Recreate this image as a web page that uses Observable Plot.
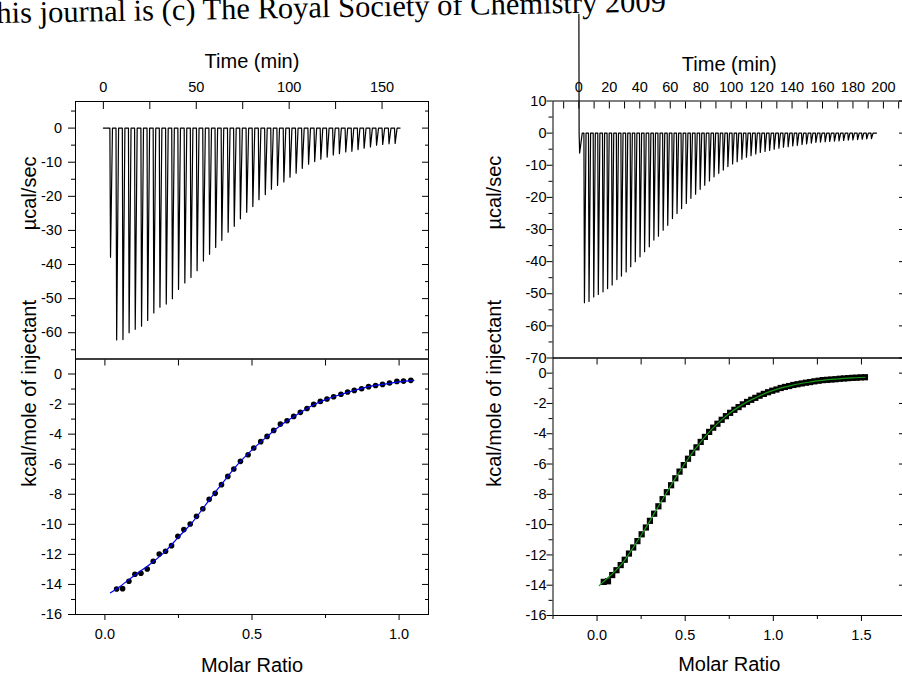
<!DOCTYPE html>
<html><head><meta charset="utf-8">
<script src="https://cdn.jsdelivr.net/npm/d3@7"></script>
<script src="https://cdn.jsdelivr.net/npm/@observablehq/plot@0.6"></script>
<style>
html,body{margin:0;padding:0;background:#fff;overflow:hidden;}
#fig{position:relative;width:902px;height:675px;overflow:hidden;background:#fff;}
#title{position:absolute;left:-21.6px;top:-2.5px;font-family:"Liberation Serif","Times New Roman",serif;font-size:30.5px;line-height:30.5px;white-space:nowrap;color:#000;transform-origin:21.6px 25.5px;transform:rotate(-1deg);}
</style></head><body>
<div id="fig"><div id="title">This journal is (c) The Royal Society of Chemistry 2009</div></div>
<script>
// ---------- Left panel, raw data (µcal/sec vs time) ----------
const ltInjTime = [3.5, 6.8, 10.2, 13.5, 16.8, 20.2, 23.5, 26.8, 30.1, 33.5, 36.8, 40.1, 43.5, 46.8, 50.1, 53.5, 56.8, 60.1, 63.4, 66.8, 70.1, 73.4, 76.8, 80.1, 83.4, 86.8, 90.1, 93.4, 96.8, 100.1, 103.4, 106.7, 110.1, 113.4, 116.7, 120.1, 123.4, 126.7, 130.1, 133.4, 136.7, 140.0, 143.4, 146.7, 150.0, 153.4, 156.7];
const ltDepth = [-37.9, -62.1, -62.0, -60.0, -59.0, -58.1, -56.4, -54.2, -52.5, -51.6, -50.0, -47.3, -45.4, -43.8, -41.8, -39.0, -37.0, -35.0, -32.9, -30.5, -28.8, -26.6, -24.7, -23.0, -21.0, -19.5, -17.9, -16.8, -15.8, -14.4, -13.2, -11.8, -10.6, -9.8, -9.1, -8.5, -7.9, -7.5, -7.0, -6.8, -6.3, -5.9, -5.5, -5.0, -4.8, -4.6, -4.5];
const ltStartT = [0], ltStartV = [0];
const ltEndT = 159.7;

// ---------- Left panel, integrated heats ----------
const lbRatio = [0.0397, 0.0601, 0.0816, 0.1020, 0.1224, 0.1439, 0.1643, 0.1846, 0.2061, 0.2265, 0.2480, 0.2684, 0.2899, 0.3114, 0.3329, 0.3544, 0.3748, 0.3963, 0.4178, 0.4382, 0.4608, 0.4868, 0.5060, 0.5298, 0.5513, 0.5739, 0.5965, 0.6192, 0.6418, 0.6644, 0.6870, 0.7097, 0.7323, 0.7549, 0.7775, 0.8024, 0.8250, 0.8477, 0.8726, 0.8963, 0.9201, 0.9438, 0.9676, 0.9925, 1.0151, 1.0400];
const lbKcal = [-14.30, -14.28, -13.79, -13.32, -13.26, -12.97, -12.46, -11.97, -11.79, -11.42, -10.80, -10.35, -9.98, -9.47, -8.96, -8.34, -7.94, -7.36, -6.81, -6.32, -5.81, -5.37, -4.92, -4.50, -4.15, -3.75, -3.33, -3.11, -2.82, -2.55, -2.29, -2.02, -1.82, -1.66, -1.51, -1.35, -1.20, -1.09, -0.98, -0.84, -0.76, -0.69, -0.60, -0.49, -0.47, -0.42];
const lbFitRatio = [0.019, 0.05, 0.10, 0.15, 0.20, 0.25, 0.30, 0.35, 0.40, 0.45, 0.50, 0.55, 0.60, 0.65, 0.70, 0.75, 0.80, 0.85, 0.90, 0.95, 1.00, 1.05];
const lbFitKcal = [-14.56, -14.15, -13.40, -12.70, -11.90, -10.85, -9.80, -8.50, -7.25, -6.05, -5.05, -4.18, -3.38, -2.74, -2.14, -1.70, -1.37, -1.08, -0.82, -0.67, -0.52, -0.42];

// ---------- Right panel, raw data ----------
const rtInjTime = [3.3, 6.3, 9.4, 12.4, 15.5, 18.5, 21.5, 24.6, 27.6, 30.7, 33.7, 36.7, 39.8, 42.8, 45.9, 48.9, 51.9, 55.0, 58.0, 61.1, 64.1, 67.1, 70.2, 73.2, 76.3, 79.3, 82.3, 85.4, 88.4, 91.5, 94.5, 97.5, 100.6, 103.6, 106.7, 109.7, 112.7, 115.8, 118.8, 121.9, 124.9, 127.9, 131.0, 134.0, 137.1, 140.1, 143.1, 146.2, 149.2, 152.3, 155.3, 158.3, 161.4, 164.4, 167.5, 170.5, 173.5, 176.6, 179.6, 182.7, 185.7, 188.7, 191.8];
const rtDepth = [-52.8, -52.4, -51.0, -50.2, -49.4, -48.4, -47.3, -45.6, -44.5, -43.2, -41.6, -40.0, -38.5, -36.9, -35.4, -33.3, -32.1, -30.2, -28.7, -26.6, -25.0, -23.5, -21.9, -20.3, -19.0, -17.5, -16.2, -14.9, -13.6, -12.5, -11.5, -10.4, -9.6, -8.9, -8.1, -7.5, -7.0, -6.5, -6.0, -5.7, -5.4, -5.0, -4.7, -4.4, -4.2, -4.0, -3.8, -3.55, -3.35, -3.1, -2.9, -2.8, -2.7, -2.6, -2.5, -2.4, -2.3, -2.2, -2.1, -2.0, -1.9, -1.8, -1.7];
const rtStartT = [0, 0.15, 0.5, 2.2], rtStartV = [37, 0, -6.2, 0];
const rtEndT = 195.4;

// ---------- Right panel, integrated heats ----------
const rbRatio = [0.038, 0.062, 0.086, 0.110, 0.134, 0.157, 0.181, 0.205, 0.229, 0.253, 0.277, 0.300, 0.324, 0.348, 0.372, 0.396, 0.420, 0.444, 0.468, 0.492, 0.516, 0.540, 0.564, 0.588, 0.612, 0.636, 0.659, 0.683, 0.707, 0.731, 0.755, 0.779, 0.803, 0.827, 0.851, 0.875, 0.898, 0.922, 0.946, 0.970, 0.994, 1.018, 1.042, 1.066, 1.090, 1.114, 1.137, 1.161, 1.185, 1.209, 1.233, 1.257, 1.281, 1.305, 1.329, 1.353, 1.377, 1.401, 1.425, 1.449, 1.472, 1.496, 1.520];
const rbKcal = [-13.78, -13.74, -13.33, -13.01, -12.67, -12.32, -11.91, -11.51, -11.09, -10.64, -10.19, -9.75, -9.28, -8.79, -8.32, -7.86, -7.40, -6.94, -6.50, -6.07, -5.65, -5.26, -4.90, -4.54, -4.21, -3.88, -3.60, -3.34, -3.08, -2.84, -2.62, -2.42, -2.24, -2.06, -1.90, -1.76, -1.63, -1.49, -1.37, -1.26, -1.16, -1.08, -0.98, -0.91, -0.85, -0.78, -0.73, -0.68, -0.63, -0.59, -0.54, -0.50, -0.46, -0.44, -0.42, -0.40, -0.37, -0.35, -0.33, -0.31, -0.30, -0.28, -0.27];
const rbFitRatio = [0.013, 0.05, 0.10, 0.15, 0.20, 0.25, 0.30, 0.35, 0.40, 0.45, 0.50, 0.55, 0.60, 0.65, 0.70, 0.75, 0.80, 0.85, 0.90, 0.95, 1.00, 1.05, 1.10, 1.15, 1.20, 1.25, 1.30, 1.35, 1.40, 1.45, 1.52];
const rbFitKcal = [-14.02, -13.62, -13.10, -12.45, -11.60, -10.70, -9.75, -8.75, -7.78, -6.83, -5.93, -5.11, -4.37, -3.71, -3.15, -2.66, -2.26, -1.91, -1.62, -1.35, -1.14, -0.96, -0.82, -0.70, -0.60, -0.51, -0.44, -0.40, -0.35, -0.31, -0.27];

// ---------- Tick values ----------
const ltTimeTicks = [0, 50, 100, 150], ltTimeMinor = [25, 75, 125];
const ltYTicks = [0, -10, -20, -30, -40, -50, -60], ltYMinor = [5, -5, -15, -25, -35, -45, -55, -65];
const lbXTicks = [0, 0.5, 1.0], lbXMinor = [0.25, 0.75];
const kcalTicks = [0, -2, -4, -6, -8, -10, -12, -14, -16], kcalMinor = [-1, -3, -5, -7, -9, -11, -13, -15];
const rtTimeTicks = [0, 20, 40, 60, 80, 100, 120, 140, 160, 180, 200], rtTimeMinor = [-10, 10, 30, 50, 70, 90, 110, 130, 150, 170, 190, 210];
const rtYTicks = [10, 0, -10, -20, -30, -40, -50, -60, -70], rtYMinor = [5, -5, -15, -25, -35, -45, -55, -65];
const rbXTicks = [0, 0.5, 1.0, 1.5], rbXMinor = [-0.25, 0.25, 0.75, 1.25, 1.75];

// ---------- helpers ----------
function buildTrace(startT, startV, times, depths, endT) {
  const pts = startT.map((t, i) => ({t, v: startV[i]}));
  times.forEach((t, i) => { pts.push({t, v: 0}, {t: t + 0.35, v: depths[i]}, {t: t + 1.4, v: 0}); });
  pts.push({t: endT, v: 0});
  return pts;
}
const zip = (a, b) => a.map((x, i) => ({x, y: b[i]}));
const FONT = "'Liberation Sans', Arial, Helvetica, sans-serif";
const STYLE = `position:absolute;left:0;top:0;background:transparent;overflow:visible;max-width:none;font-family:${FONT};font-size:14.5px;color:#000;`;
const hy = d => String(d);
const f1 = d => d.toFixed(1);
const blank = () => "";
const fig = document.getElementById("fig");

function rawPanel({width, ml, mr, mt, bottom, xDomain, yDomain, tTicks, tMinor, yTicks, yMinor, trace, leftTick, leftPad, titleDy, yTitleDx}) {
  return Plot.plot({
    width, height: 675, marginLeft: ml, marginRight: mr, marginTop: mt, marginBottom: 675 - bottom,
    x: {domain: xDomain}, y: {domain: yDomain},
    style: STYLE,
    marks: [
      Plot.frame({stroke: "black", strokeWidth: 1}),
      Plot.axisX(tTicks, {anchor: "top", tickSize: 0, tickPadding: titleDy.tick, tickFormat: hy, label: null}),
      Plot.axisX([...tTicks, ...tMinor], {anchor: "top", tickSize: 7, dy: 7, tickFormat: blank, label: null}),
      Plot.axisY(yTicks, {anchor: "left", tickSize: leftTick, tickPadding: leftPad, tickFormat: hy, label: null}),
      Plot.axisY(yMinor, {anchor: "left", tickSize: 4, tickFormat: blank, label: null}),
      Plot.axisY(yTicks, {anchor: "right", tickSize: 7, dx: -7, tickFormat: blank, label: null}),
      Plot.axisY(yMinor, {anchor: "right", tickSize: 4, dx: -4, tickFormat: blank, label: null}),
      Plot.line(trace, {x: "t", y: "v", stroke: "black", strokeWidth: 1.2}),
      Plot.text(["Time (min)"], {text: d => d, frameAnchor: "top", dy: titleDy.title, lineAnchor: "bottom", fontSize: 20}),
      Plot.text(["µcal/sec"], {text: d => d, frameAnchor: "left", dx: yTitleDx, rotate: -90, lineAnchor: "middle", fontSize: 20})
    ]
  });
}

function heatPanel({width, ml, mr, top, bottom, xDomain, xTicks, xMinor, topTicks, points, fit, symbol, r, fitColor, leftTick, leftPad, yTitleDx, titleDy}) {
  return Plot.plot({
    width, height: 675, marginLeft: ml, marginRight: mr, marginTop: top, marginBottom: 675 - bottom,
    x: {domain: xDomain}, y: {domain: [-16, 1]},
    style: STYLE,
    marks: [
      Plot.frame({stroke: "black", strokeWidth: 1}),
      Plot.axisX(topTicks, {anchor: "top", tickSize: 6, dy: 6, tickFormat: blank, label: null}),
      Plot.axisX(xTicks, {anchor: "bottom", tickSize: 6, tickPadding: 8.7, tickFormat: f1, label: null}),
      Plot.axisX(xMinor, {anchor: "bottom", tickSize: 4, tickFormat: blank, label: null}),
      Plot.axisY(kcalTicks, {anchor: "left", tickSize: leftTick, tickPadding: leftPad, tickFormat: hy, label: null}),
      Plot.axisY(kcalMinor, {anchor: "left", tickSize: 4, tickFormat: blank, label: null}),
      Plot.axisY(kcalTicks, {anchor: "right", tickSize: 7, dx: -7, tickFormat: blank, label: null}),
      Plot.axisY(kcalMinor, {anchor: "right", tickSize: 4, dx: -4, tickFormat: blank, label: null}),
      Plot.dot(points, {x: "x", y: "y", symbol, r, fill: "black", stroke: "none"}),
      Plot.line(fit, {x: "x", y: "y", stroke: fitColor, strokeWidth: 1.2, curve: "monotone-x"}),
      Plot.text(["Molar Ratio"], {text: d => d, frameAnchor: "bottom", dy: titleDy, lineAnchor: "bottom", fontSize: 20}),
      Plot.text(["kcal/mole of injectant"], {text: d => d, frameAnchor: "left", dx: yTitleDx, rotate: -90, lineAnchor: "middle", fontSize: 20})
    ]
  });
}

const lt = rawPanel({width: 902, ml: 75, mr: 474, mt: 101, bottom: 358.5, xDomain: [-15, 175], yDomain: [-67.7, 7.8],
  tTicks: ltTimeTicks, tMinor: ltTimeMinor, yTicks: ltYTicks, yMinor: ltYMinor,
  trace: buildTrace(ltStartT, ltStartV, ltInjTime, ltDepth, ltEndT), leftTick: 7, leftPad: 6.5,
  titleDy: {tick: 9.3, title: -33.5}, yTitleDx: -46});
const rt = rawPanel({width: 910, ml: 552.5, mr: 5, mt: 100.5, bottom: 357.5, xDomain: [-17, 214.5], yDomain: [-70, 10],
  tTicks: rtTimeTicks, tMinor: rtTimeMinor, yTicks: rtYTicks, yMinor: rtYMinor,
  trace: buildTrace(rtStartT, rtStartV, rtInjTime, rtDepth, rtEndT), leftTick: 6, leftPad: 0.5,
  titleDy: {tick: 8.8, title: -30}, yTitleDx: -58});
const lb = heatPanel({width: 902, ml: 75, mr: 474, top: 358.5, bottom: 614, xDomain: [-0.1, 1.1], xTicks: lbXTicks, xMinor: lbXMinor,
  topTicks: [...lbXTicks, ...lbXMinor], points: zip(lbRatio, lbKcal), fit: zip(lbFitRatio, lbFitKcal), symbol: "circle", r: 2.8,
  fitColor: "#0000f0", leftTick: 7, leftPad: 6.5, yTitleDx: -46, titleDy: 57});
const rb = heatPanel({width: 910, ml: 552.5, mr: 5, top: 357.5, bottom: 615, xDomain: [-0.25, 1.75], xTicks: rbXTicks, xMinor: rbXMinor,
  topTicks: [0, 0.25, 0.5, 0.75, 1.0, 1.25, 1.5], points: zip(rbRatio, rbKcal), fit: zip(rbFitRatio, rbFitKcal), symbol: "square", r: 3.5,
  fitColor: "#1a9a1a", leftTick: 6, leftPad: 0.5, yTitleDx: -58, titleDy: 55});
[lt, lb, rt, rb].forEach(p => fig.appendChild(p));
</script>
</body></html>
